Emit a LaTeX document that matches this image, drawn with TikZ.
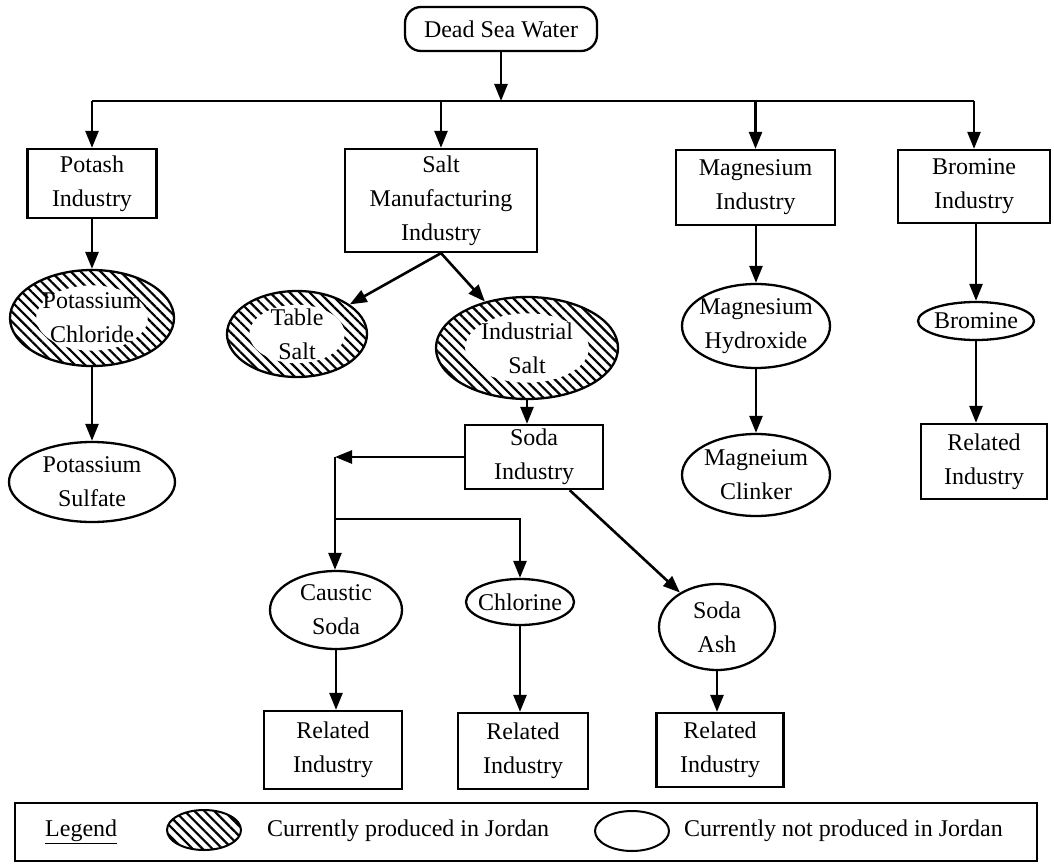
\documentclass[tikz,border=0pt]{standalone}
\usepackage{fontspec}
\setmainfont{Liberation Serif}
\usetikzlibrary{arrows.meta,shapes.geometric,patterns.meta,calc}
\begin{document}
\begin{tikzpicture}[x=1pt,y=1pt,
  every node/.style={font=\fontsize{24}{34}\selectfont, inner sep=0pt, align=center},
  box/.style={draw, rectangle, line width=2.3pt},
  hatch/.style={pattern={Lines[angle=-45,distance=7pt,line width=2.2pt]}},
  produced/.style={ellipse, draw, line width=2.3pt, hatch,
    path picture={\fill[white] let \p1=(path picture bounding box.south west),
      \p2=(path picture bounding box.north east) in
      ($(\p1)!0.5!(\p2)$) ellipse [x radius={0.34*(\x2-\x1)}, y radius={0.34*(\y2-\y1)}];}},
  notproduced/.style={ellipse, draw, line width=2.3pt},
  conn/.style={line width=2.6pt, -{Triangle[length=17pt,width=13pt]}},
  bus/.style={line width=2pt}
]
\fill[white] (0,0) rectangle (1054,-864);
\useasboundingbox (0,0) rectangle (1054,-864);

% source
\node[box, rounded corners=16pt, minimum width=192pt, minimum height=44pt] (dsw) at (501,-29) {Dead Sea Water};
\coordinate (hub) at (501,-101);

% industries
\node[box, minimum width=129pt, minimum height=69pt] (potash) at (92,-183.5) {Potash\\Industry};
\node[box, minimum width=192pt, minimum height=103pt] (salt) at (441,-200.5) {Salt\\Manufacturing\\Industry};
\node[box, minimum width=159pt, minimum height=75pt] (mgind) at (755.5,-187.5) {Magnesium\\Industry};
\node[box, minimum width=152pt, minimum height=73pt] (brind) at (974,-186.5) {Bromine\\Industry};

\draw[bus] (potash |- hub) -- (brind |- hub);
\draw[conn] (dsw) -- (hub);
\foreach \n in {potash,salt,mgind,brind} \draw[conn] (\n |- hub) -- (\n);

% potash branch
\node[produced, minimum width=164pt, minimum height=96pt] (kcl) at (92,-318) {Potassium\\Chloride};
\node[notproduced, minimum width=166pt, minimum height=80pt] (ksulf) at (92,-482) {Potassium\\Sulfate};
\draw[conn] (potash) -- (kcl);
\draw[conn] (kcl) -- (ksulf);

% salt branch
\node[produced, minimum width=140pt, minimum height=86pt] (tsalt) at (297,-334) {Table\\Salt};
\node[produced, minimum width=182pt, minimum height=102pt] (isalt) at (527,-348) {Industrial\\Salt};
\draw[conn] (salt.south) -- (tsalt);
\draw[conn] (salt.south) -- (isalt);

% magnesium branch
\node[notproduced, inner xsep=-6pt, minimum width=148pt, minimum height=84pt] (mgoh) at (756,-326) {Magnesium\\Hydroxide};
\node[notproduced, minimum width=148pt, minimum height=82pt] (clinker) at (756,-475) {Magneium\\Clinker};
\draw[conn] (mgind.south -| mgoh) -- (mgoh);
\draw[conn] (mgoh) -- (clinker);

% bromine branch
\node[notproduced, inner xsep=-4pt, minimum width=116pt, minimum height=38pt] (brom) at (976,-321) {Bromine};
\node[box, minimum width=126pt, minimum height=75pt] (rib) at (984,-461.5) {Related\\Industry};
\draw[conn] (brind.south -| brom) -- (brom);
\draw[conn] (brom) -- (brom |- rib.north);

% soda branch
\node[box, minimum width=138pt, minimum height=64pt] (soda) at (534,-457) {Soda\\Industry};
\draw[conn] (isalt) -- (isalt |- soda.north);
\coordinate (split) at (335,-457);
\coordinate (fork) at (335,-519);
\node[notproduced, minimum width=132pt, minimum height=78pt] (caustic) at (336,-610) {Caustic\\Soda};
\node[notproduced, inner xsep=-6pt, minimum width=108pt, minimum height=46pt] (chlorine) at (520,-602) {Chlorine};
\node[notproduced, minimum width=116pt, minimum height=86pt] (ash) at (717,-627) {Soda\\Ash};
\draw[conn] (soda) -- (split);
\draw[conn] (split) -- (split |- caustic.north);
\draw[conn] (fork) -| (chlorine);
\draw[conn] (soda) -- (ash);

\node[box, minimum width=138pt, minimum height=78pt] (ri1) at (333,-750) {Related\\Industry};
\node[box, minimum width=130pt, minimum height=76pt] (ri2) at (523,-751) {Related\\Industry};
\node[box, minimum width=127pt, minimum height=74pt] (ri3) at (720,-750) {Related\\Industry};
\draw[conn] (caustic) -- (caustic |- ri1.north);
\draw[conn] (chlorine) -- (chlorine |- ri2.north);
\draw[conn] (ash) -- (ash |- ri3.north);

% legend
\node[box, minimum width=1022pt, minimum height=58pt] (legend) at (526,-832) {};
\node[anchor=west] (legtitle) at (45,-832) {\underline{Legend}};
\node[ellipse, draw, line width=2pt, hatch, minimum width=74pt, minimum height=40pt] (sym1) at (204,-830) {};
\node[anchor=west] (txt1) at (267,-831) {Currently produced in Jordan};
\node[notproduced, line width=2pt, minimum width=74pt, minimum height=40pt] (sym2) at (632,-831) {};
\node[anchor=west] (txt2) at (684,-831) {Currently not produced in Jordan};
\end{tikzpicture}
\end{document}
